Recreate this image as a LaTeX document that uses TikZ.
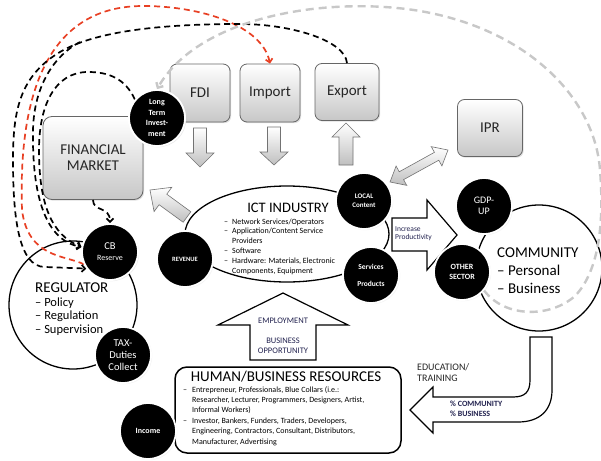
\documentclass[tikz,border=0pt]{standalone}
\usepackage{fontspec}
\setmainfont{Carlito}
\usetikzlibrary{arrows.meta,shadows,shapes.geometric}
\definecolor{redline}{RGB}{232,64,36}
\definecolor{grayline}{RGB}{200,200,200}
\definecolor{navy}{RGB}{35,35,80}
% straight block arrow: style, base point, angle, length, shaft half width, head half width, head length
\newcommand{\blockarrow}[7]{%
  \draw[#1,shift={#2},rotate=#3] (0,-#5) -- ({#4-#7},-#5) -- ({#4-#7},-#6) -- (#4,0)
    -- ({#4-#7},#6) -- ({#4-#7},#5) -- (0,#5) -- cycle;}
% double-headed block arrow: style, centre, angle, half length, shaft half width, head half width, head length
\newcommand{\twowayarrow}[7]{%
  \draw[#1,shift={#2},rotate=#3] (-#4,0) -- ({-#4+#7},-#6) -- ({-#4+#7},-#5) -- ({#4-#7},-#5)
    -- ({#4-#7},-#6) -- (#4,0) -- ({#4-#7},#6) -- ({#4-#7},#5) -- ({-#4+#7},#5) -- ({-#4+#7},#6) -- cycle;}
\begin{document}
\begin{tikzpicture}[x=1pt,y=-1pt,
  box/.style={rectangle, rounded corners=7pt, draw=black!60, line width=0.8pt,
    top color=white, bottom color=black!22, text=black!85, inner sep=0pt,
    font=\fontsize{15}{16}\selectfont,
    drop shadow={opacity=0.25,shadow xshift=1.2pt,shadow yshift=-1.2pt}},
  dot/.style={circle, fill=black, draw=white, line width=1.8pt, minimum size=56pt,
    inner sep=0pt, text=white, align=center,
    circular drop shadow={opacity=0.3,shadow xshift=0.8pt,shadow yshift=-0.8pt,shadow scale=1.02}},
  outline/.style={draw=black, line width=1.3pt, fill=white, inner sep=0pt},
  grayarrow/.style={draw=black!55, line width=0.6pt, top color=white, bottom color=black!25},
  whitearrow/.style={draw=black, line width=1.2pt, fill=white, line join=miter},
  link/.style={dash pattern=on 6pt off 4pt, line width=1.7pt,
    -{Straight Barb[length=3.5pt,width=7pt]}},
  graylink/.style={draw=grayline, dash pattern=on 8pt off 5pt, line width=2.4pt,
    -{Straight Barb[length=4pt,width=8pt]}},
  label/.style={inner sep=0pt, anchor=base west},
]
\useasboundingbox (0,0) rectangle (601,460);
\fill[white] (0,0) rectangle (601,460);

% large outlined shapes
\node[outline, circle, minimum size=128pt] (reg) at (73,305) {};
\node[outline, circle, minimum size=126pt] (com) at (539,268) {};
\node[outline, ellipse, minimum width=204pt, minimum height=96pt] (ict) at (287,234) {};
\node[outline, rectangle, rounded corners=12pt, minimum width=226pt, minimum height=86pt,
  line width=1.5pt] (hr) at (288,410) {};

% shaded boxes
\node[box, minimum width=60pt, minimum height=58pt] (fdi) at (200,93) {FDI};
\node[box, minimum width=60pt, minimum height=58pt] (imp) at (270,93) {Import};
\node[box, minimum width=64pt, minimum height=57pt] (exp) at (347,92) {Export};
\node[box, minimum width=65pt, minimum height=57pt] (ipr) at (490,128) {IPR};
\node[box, minimum width=100pt, minimum height=83pt, rounded corners=9pt, align=center]
  (fin) at (93,158) {FINANCIAL\\MARKET};

% grey block arrows
\blockarrow{grayarrow}{(200,128)}{-90}{39}{6.5}{14}{14}
\blockarrow{grayarrow}{(274,127)}{-90}{38}{6.5}{14}{13}
\blockarrow{grayarrow}{(346,165)}{90}{42}{7}{14}{14}
\blockarrow{grayarrow}{(187,217)}{143.9}{45.8}{6.5}{15}{16}
\twowayarrow{grayarrow}{(419,166)}{28.9}{33.1}{4.5}{11}{13}

% white block arrows
\draw[whitearrow] (392,218) -- (427,218) -- (427,200) -- (457,235) -- (427,270)
  -- (427,251) -- (392,251) -- cycle;
\draw[whitearrow] (283,293) -- (348,325) -- (316,325) -- (316,360) -- (250,360)
  -- (250,325) -- (218,325) -- cycle;
\draw[whitearrow] (530,337) -- (530,380) .. controls (530,392) and (525,397) .. (513,397)
  -- (433,397) -- (433,387) -- (410,410) -- (433,433) -- (433,422) -- (518,422)
  .. controls (540,422) and (552,410) .. (552,390) -- (552,337) -- cycle;

% dark circles
\node[dot, font=\bfseries\fontsize{8}{10.5}\selectfont] (lti) at (157,118) {Long\\Term\\Invest-\\ment};
\node[dot, font=\fontsize{10.5}{11}\selectfont] (cb) at (110,252) {CB\\\fontsize{8}{10}\selectfont Reserve};
\node[dot, font=\bfseries\fontsize{6.5}{8}\selectfont] (rev) at (185,259) {REVENUE};
\node[dot, font=\fontsize{10.5}{12}\selectfont] (tax) at (123,355) {TAX-\\Duties\\Collect};
\node[dot, font=\bfseries\fontsize{8}{10}\selectfont] (inc) at (148,431) {Income};
\node[dot, font=\bfseries\fontsize{7}{9}\selectfont] (loc) at (364,201) {LOCAL\\Content};
\node[dot, font=\bfseries\fontsize{7.5}{9}\selectfont] (svc) at (371,275) {Services\\[8pt]Products};
\node[dot, font=\fontsize{10}{11}\selectfont] (gdp) at (484,206) {GDP-\\UP};
\node[dot, font=\bfseries\fontsize{8}{10}\selectfont] (oth) at (462,272) {OTHER\\SECTOR};

% dashed flows
\coordinate (split) at (80,42);
\draw[link, draw=redline, {Straight Barb[length=3.5pt,width=7pt]}-{}] (imp.north)
  .. controls (262,25) and (200,6) .. (143,6)
  .. controls (50,6) and (18,90) .. (22,210)
  .. controls (28,258) and (65,255) .. (cb.205);
\draw[link] (exp.north) .. controls (345,40) and (290,24) .. (240,24)
  .. controls (180,24) and (100,28) .. (60,52)
  .. controls (20,76) and (13,110) .. (13,160)
  .. controls (13,215) and (18,267) .. (45,267) -- (cb.215);
\draw[link] (split) .. controls (55,55) and (34,85) .. (33,130)
  .. controls (32,195) and (45,240) .. (cb.170);
\draw[link] (lti.140) .. controls (125,78) and (108,72) .. (88,72)
  .. controls (55,72) and (39,105) .. (39,150)
  .. controls (39,205) and (52,235) .. (cb.170);
\draw[link] (fin.south) .. controls (93,212) and (110,206) .. (cb.north);
\draw[graylink] (oth.-40) .. controls (505,318) and (550,318) .. (575,296)
  .. controls (600,270) and (604,220) .. (600,170)
  .. controls (595,100) and (530,30) .. (420,11)
  .. controls (330,-4) and (200,15) .. (lti.north);

% redraw circles touched by the flows
\node[dot, font=\bfseries\fontsize{8}{10.5}\selectfont] at (lti) {Long\\Term\\Invest-\\ment};
\node[dot, font=\fontsize{10.5}{11}\selectfont] at (cb) {CB\\\fontsize{8}{10}\selectfont Reserve};

% ICT industry text
\node[inner sep=0pt, anchor=base, font=\fontsize{14.5}{16}\selectfont] (ictt) at (288,212) {ICT INDUSTRY};
\foreach \t [count=\i] in {
  {\llap{–\hspace{4pt}}Network Services/Operators},
  {\llap{–\hspace{4pt}}Application/Content Service},
  {Providers},
  {\llap{–\hspace{4pt}}Software},
  {\llap{–\hspace{4pt}}Hardware: Materials, Electronic},
  {Components, Equipment}}
  \node[label, font=\fontsize{8}{9}\selectfont] (ictl\i) at (232,{214.2+9.8*\i}) {\t};

% regulator text
\node[label, font=\fontsize{15}{16}\selectfont] (regt) at (35,292) {REGULATOR};
\node[label, font=\fontsize{12.5}{14}\selectfont] (reg1) at (35,306) {– Policy};
\node[label, font=\fontsize{12.5}{14}\selectfont] (reg2) at (35,319) {– Regulation};
\node[label, font=\fontsize{12.5}{14}\selectfont] (reg3) at (35,333) {– Supervision};

% community text
\node[label, font=\fontsize{15}{16}\selectfont] (comt) at (497,257) {COMMUNITY};
\node[label, font=\fontsize{15}{16}\selectfont] (com1) at (497,275) {– Personal};
\node[label, font=\fontsize{15}{16}\selectfont] (com2) at (497,293) {– Business};

% human / business resources text
\node[inner sep=0pt, anchor=base, font=\fontsize{15}{16}\selectfont] (hrt) at (286,381) {HUMAN/BUSINESS RESOURCES};
\foreach \t [count=\i] in {
  {\llap{–\hspace{5pt}}Entrepreneur, Professionals, Blue Collars (i.e.:},
  {Researcher, Lecturer, Programmers, Designers, Artist,},
  {Informal Workers)},
  {\llap{–\hspace{5pt}}Investor, Bankers, Funders, Traders, Developers,},
  {Engineering, Contractors, Consultant, Distributors,},
  {Manufacturer, Advertising}}
  \node[label, font=\fontsize{8}{9}\selectfont] (hrl\i) at (192,{381.6+10.4*\i}) {\t};

% arrow captions
\node[label, font=\fontsize{7.5}{9}\selectfont, text=navy] (inc1) at (395,231) {Increase};
\node[label, font=\fontsize{7.5}{9}\selectfont, text=navy] (inc2) at (395,239.5) {Productivity};
\node[inner sep=0pt, anchor=base, font=\fontsize{8.5}{9}\selectfont, text=navy] (emp1) at (283,323) {EMPLOYMENT};
\node[inner sep=0pt, anchor=base, font=\fontsize{8.5}{9}\selectfont, text=navy] (emp2) at (283,343) {BUSINESS};
\node[inner sep=0pt, anchor=base, font=\fontsize{8.5}{9}\selectfont, text=navy] (emp3) at (283,353.5) {OPPORTUNITY};
\node[label, font=\fontsize{10}{11}\selectfont, text=black!85] (edu1) at (417,370) {EDUCATION/};
\node[label, font=\fontsize{10}{11}\selectfont, text=black!85] (edu2) at (417,381) {TRAINING};
\node[label, font=\bfseries\fontsize{8}{9}\selectfont, text=navy] (pct1) at (450,406) {\% COMMUNITY};
\node[label, font=\bfseries\fontsize{8}{9}\selectfont, text=navy] (pct2) at (450,416) {\% BUSINESS};
\end{tikzpicture}
\end{document}
